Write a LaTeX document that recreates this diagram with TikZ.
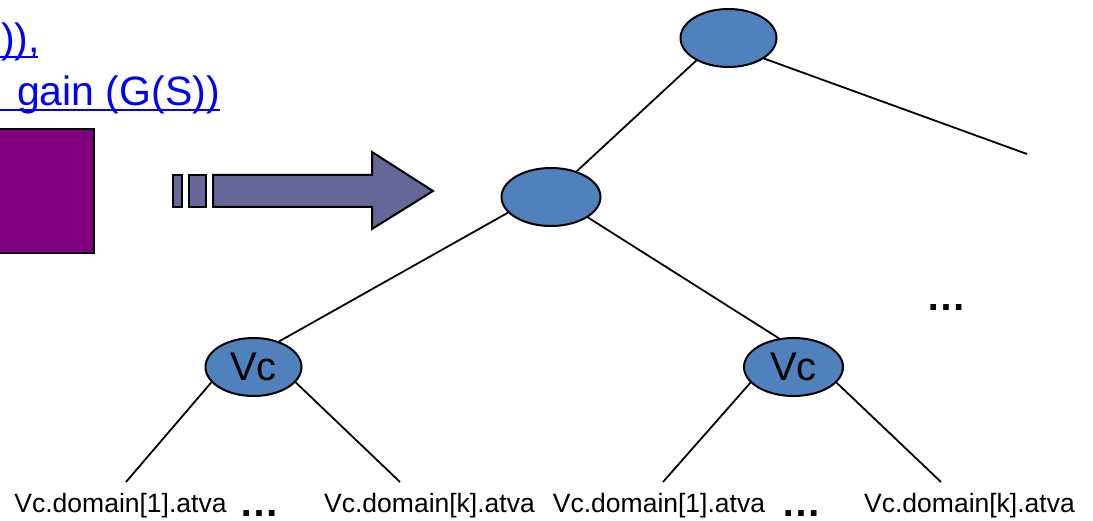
\documentclass[tikz,border=0pt]{standalone}
\usepackage{fontspec}
\setmainfont{Liberation Sans}
\usetikzlibrary{shapes.geometric}
\definecolor{nodeblue}{HTML}{4F81BD}
\definecolor{arrowpurple}{HTML}{666699}
\definecolor{boxpurple}{HTML}{800080}
\definecolor{linkblue}{HTML}{0000FF}
\begin{document}
\begin{tikzpicture}[x=1pt,y=-1pt,
  tnode/.style={ellipse, draw=black, line width=2pt, fill=nodeblue,
    minimum width=96pt, minimum height=58pt, inner sep=0pt,
    font=\fontsize{40}{40}\selectfont},
  edge/.style={draw=black, line width=1.8pt},
  leaf/.style={font=\fontsize{26.5}{28}\selectfont, inner sep=0pt, anchor=base},
  dots/.style={font=\bfseries\fontsize{40}{40}\selectfont, inner sep=0pt, anchor=base},
  link/.style={text=linkblue, font=\fontsize{41}{44}\selectfont, inner sep=0pt, anchor=base east},
  uline/.style={draw=linkblue, line width=2pt},
  shapeline/.style={draw=black, line width=2pt}]
\useasboundingbox (0,0) rectangle (1093,521);
\clip (0,0) rectangle (1093,521);

% cut-off link text
\node[link] (t1) at (40,53) {S)),};
\node[link] (t2) at (220,106) {gain (G(S))};
\draw[uline] (0,57) -- (38,57);
\draw[uline] (0,110) -- (220,110);

% purple box
\draw[shapeline, fill=boxpurple] (-10,129) rectangle (94,253);

% block arrow
\draw[shapeline, fill=arrowpurple] (173,175) rectangle (182,207);
\draw[shapeline, fill=arrowpurple] (189,175) rectangle (206,207);
\draw[shapeline, fill=arrowpurple, line join=miter]
  (213,175) -- (372,175) -- (372,152) -- (433,191) -- (372,229) -- (372,207) -- (213,207) -- cycle;

% tree
\node[tnode] (root) at (728.5,38) {};
\node[tnode, minimum width=99pt] (mid) at (551,197) {};
\node[tnode] (vc1) at (253.5,367) {Vc};
\node[tnode, minimum width=99pt] (vc2) at (793.5,367) {Vc};

\coordinate (rtend) at (1027,154);
\coordinate (e1) at (126,482);
\coordinate (e2) at (400,482);
\coordinate (e3) at (663,482);
\coordinate (e4) at (941,482);

\draw[edge] (root.215) -- (mid.45);
\draw[edge] (root.330) -- (rtend);
\draw[edge] (mid.200) -- (vc1.45);
\draw[edge] (mid.331) -- (vc2.117);
\draw[edge] (vc1.200) -- (e1);
\draw[edge] (vc1.340) -- (e2);
\draw[edge] (vc2.200) -- (e3);
\draw[edge] (vc2.340) -- (e4);

% leaf labels
\node[leaf] (a1) at (120.5,512) {Vc.domain[1].atva};
\node[leaf] (a2) at (429.5,512) {Vc.domain[k].atva};
\node[leaf] (a3) at (659,512) {Vc.domain[1].atva};
\node[leaf] (a4) at (969.5,512) {Vc.domain[k].atva};
\node[dots] (d1) at (259,516) {…};
\node[dots] (d2) at (801,516) {…};
\node[dots] (d3) at (946,311) {…};
\end{tikzpicture}
\end{document}
